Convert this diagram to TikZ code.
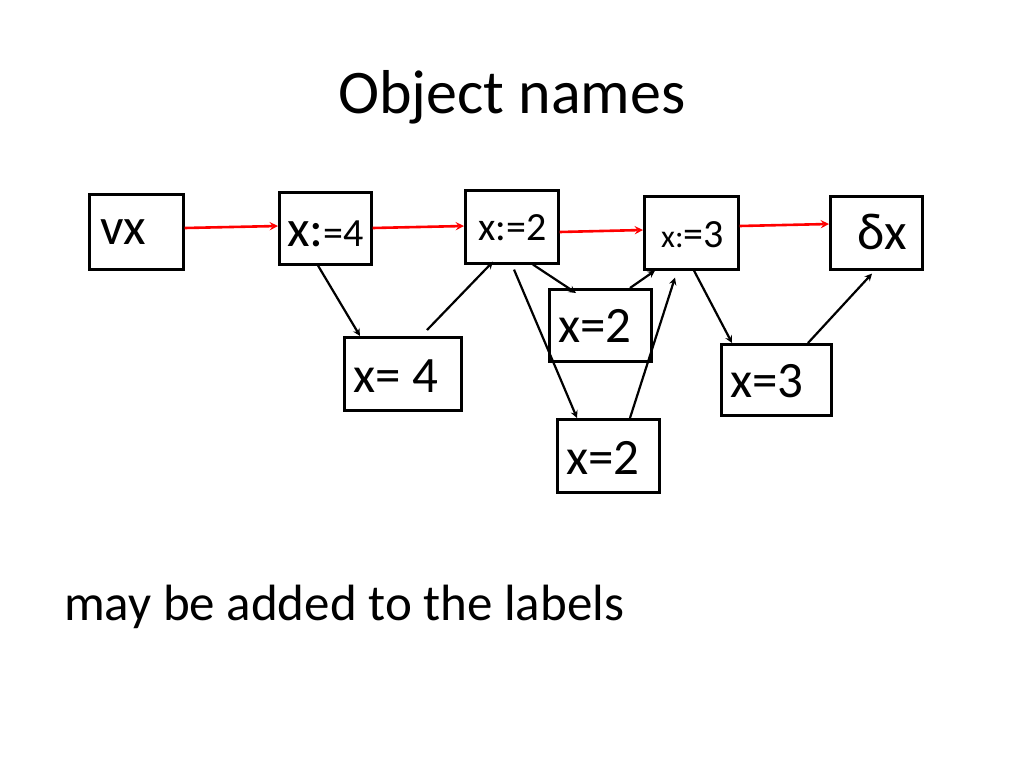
\documentclass[tikz,border=0pt]{standalone}
\usepackage{fontspec}
\setmainfont{Carlito}
\usetikzlibrary{calc}
\begin{document}
\begin{tikzpicture}[x=1pt,y=-1pt,
 box/.style={draw,line width=2.6pt,anchor=north west,inner sep=0pt},
 lbl/.style={anchor=west,inner sep=0pt},
 red/.style={draw=red,line width=2.6pt,-stealth},
 blk/.style={draw=black,line width=2.2pt,-stealth}]
\useasboundingbox (0,0) rectangle (1024,768);
\node[anchor=center] (t) at (512,97) {\fontsize{62}{70}\selectfont Object names};
\node[lbl] (m) at (64,607) {\fontsize{51}{60}\selectfont may be added to the labels};
\newcommand\bx[5]{\node[box,minimum width=#3pt,minimum height=#4pt] (#5) at (#1,#2) {};}
\bx{88}{193}{94}{75}{vx}
\bx{278}{191}{92}{72}{a}
\bx{464}{189}{93}{73}{b}
\bx{643}{195}{94}{73}{c}
\bx{829}{195}{92}{73}{d}
\bx{343}{336}{117}{73}{e}
\bx{548}{288}{102}{72}{f}
\bx{556}{418}{102}{73}{g}
\bx{720}{343}{110}{71}{h}
\newcommand\fs[1]{\fontsize{#1}{#1}\selectfont}
\node[lbl] (lvx) at (100,232) {\fs{52}vx};
\node[lbl] (la) at (287,234) {\fs{52}x:\fs{40}=4};
\node[lbl] (lb) at (478,228) {\fs{40}x:=2};
\node[lbl] (lc) at (661,235) {\fs{32}x:\fs{40}=3};
\node[lbl] (ld) at (857,232) {\fs{52}δx};
\node[lbl] (le) at (353,376) {\fs{51}x= 4};
\node[lbl] (lf) at (558,326) {\fs{51}x=2};
\node[lbl] (lg) at (566,458) {\fs{51}x=2};
\node[lbl] (lh) at (730,381) {\fs{51}x=3};
\draw[red] (vx.east |- 0,228) -- (a.west |- 0,226);
\draw[red] (a.east |- 0,228) -- (b.west |- 0,226);
\draw[red] (b.east |- 0,232) -- (c.west |- 0,230);
\draw[red] (c.east |- 0,226) -- (d.west |- 0,224);
\draw[blk] (a.south -| 318,0) -- (e.north -| 360,0);
\draw[blk] ($(e.north -| 427,0)+(0,-6)$) -- ($(b.south -| 493,0)+(0,-3)$);
\draw[blk] (b.south -| 533,0) -- ($(f.north -| 576,0)+(0,5)$);
\draw[blk] ($(b.south -| 514,0)+(0,5)$) -- (g.north -| 577,0);
\draw[blk] (g.north -| 630,0) -- ($(c.south -| 675,0)+(0,7)$);
\draw[blk] (f.north -| 630,0) -- (c.south -| 655,0);
\draw[blk] (c.south -| 694,0) -- (h.north -| 732,0);
\draw[blk] (h.north -| 808,0) -- ($(d.south -| 872,0)+(0,3)$);
\end{tikzpicture}
\end{document}
